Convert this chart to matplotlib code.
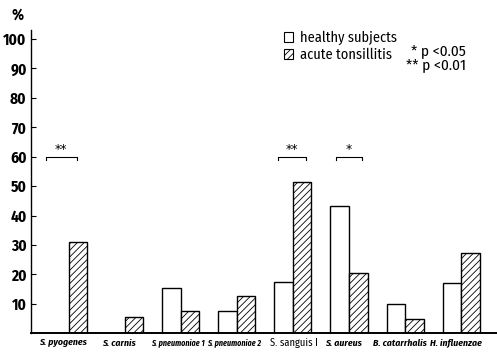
import matplotlib
matplotlib.use('Agg')
import matplotlib.pyplot as plt
from matplotlib import font_manager
from matplotlib.patches import Patch

# isolation rate (%) of each organism
organisms = ['S. pyogenes', 'S. carnis', 'S. pneumoniae 1', 'S. pneumoniae 2',
             'S. sanguis I', 'S. aureus', 'B. catarrhalis', 'H. influenzae']
healthy = [0.0, 0.0, 15.3, 7.5, 17.5, 43.3, 9.9, 17.2]
acute = [30.9, 5.4, 7.7, 12.7, 51.3, 20.6, 4.8, 27.4]

# significance marks: (organism index, stars)
signif = [(0, '**'), (4, '**'), (5, '*')]
signif_level = 60.0

yticks = [10, 20, 30, 40, 50, 60, 70, 80, 90, 100]

installed = {f.name for f in font_manager.fontManager.ttflist}
narrow = 'DejaVu Sans'
for cand in ['Fira Sans Condensed', 'Sofia Sans Condensed', 'Liberation Sans Narrow']:
    if cand in installed:
        narrow = cand
        break
plt.rcParams['font.family'] = [narrow, 'DejaVu Sans']
plt.rcParams['hatch.linewidth'] = 0.6

fig = plt.figure(figsize=(4.97, 3.52), dpi=100)
ax = fig.add_axes([30.7 / 497, 18.7 / 352, 466.3 / 497, 303.1 / 352])

w = 0.33
x = list(range(len(organisms)))
ax.bar(x, healthy, width=-w, align='edge', facecolor='white',
       edgecolor='black', linewidth=1.0, label='healthy subjects')
ax.bar(x, acute, width=w, align='edge', facecolor='white',
       edgecolor='black', linewidth=1.0, hatch='/////', label='acute tonsillitis')

ax.set_xlim(-0.674, 7.638)
ax.set_ylim(0, 103)

ax.spines['top'].set_visible(False)
ax.spines['right'].set_visible(False)
ax.spines['left'].set_linewidth(1.0)
ax.spines['bottom'].set_linewidth(1.4)

ax.set_yticks(yticks)
ax.set_yticklabels([str(t) for t in yticks], fontsize=11, fontweight='bold')
ax.tick_params(axis='y', direction='in', length=3.5, width=0.8, pad=3)
ax.set_xticks([])

# organism names under the axis
for i, name in enumerate(organisms):
    style = dict(fontsize=7, fontweight='bold', fontstyle='italic')
    dx = -0.1
    if 'pneumoniae' in name:
        style = dict(fontsize=5.8, fontweight='bold', fontstyle='italic')
        dx = -0.04
    elif 'sanguis' in name:
        style = dict(fontsize=7.5, fontweight='normal', fontstyle='normal')
        dx = 0.01
    ax.text(i + dx, -3.3, name, ha='center', va='center', **style)

# significance brackets
for i, stars in signif:
    x0, x1 = i - w - 0.07, i + w / 2 - 0.02
    if stars == '*':
        x0, x1 = i - 0.23, i + 0.23
    elif i != 0:
        x0, x1 = i - 0.27, i + 0.24
    ax.plot([x0, x0, x1, x1], [signif_level - 1.0, signif_level, signif_level,
            signif_level - 1.0], color='black', linewidth=0.8)
    ax.text((x0 + x1) / 2, signif_level + 0.3, stars, ha='center',
            va='bottom', fontsize=9, family='DejaVu Sans')

fig.text(17 / 497, 1 - 15 / 352, '%', ha='center', va='center',
         fontsize=11, fontweight='bold')

handles = [Patch(facecolor='white', edgecolor='black', linewidth=0.8),
           Patch(facecolor='white', edgecolor='black', linewidth=0.8, hatch='/////')]
ax.legend(handles, ['healthy subjects', 'acute tonsillitis'],
          loc='upper left', bbox_to_anchor=(284 / 497, 1 - 31 / 352),
          bbox_transform=fig.transFigure, frameon=False, fontsize=10.3,
          handlelength=0.65, handleheight=0.65, handletextpad=0.5,
          labelspacing=0.15, borderpad=0, borderaxespad=0)

fig.text(466 / 497, 1 - 50.7 / 352, '* p <0.05', ha='right', va='center', fontsize=11)
fig.text(466 / 497, 1 - 65 / 352, '** p <0.01', ha='right', va='center', fontsize=11)

fig.savefig('out.png', dpi=100)
